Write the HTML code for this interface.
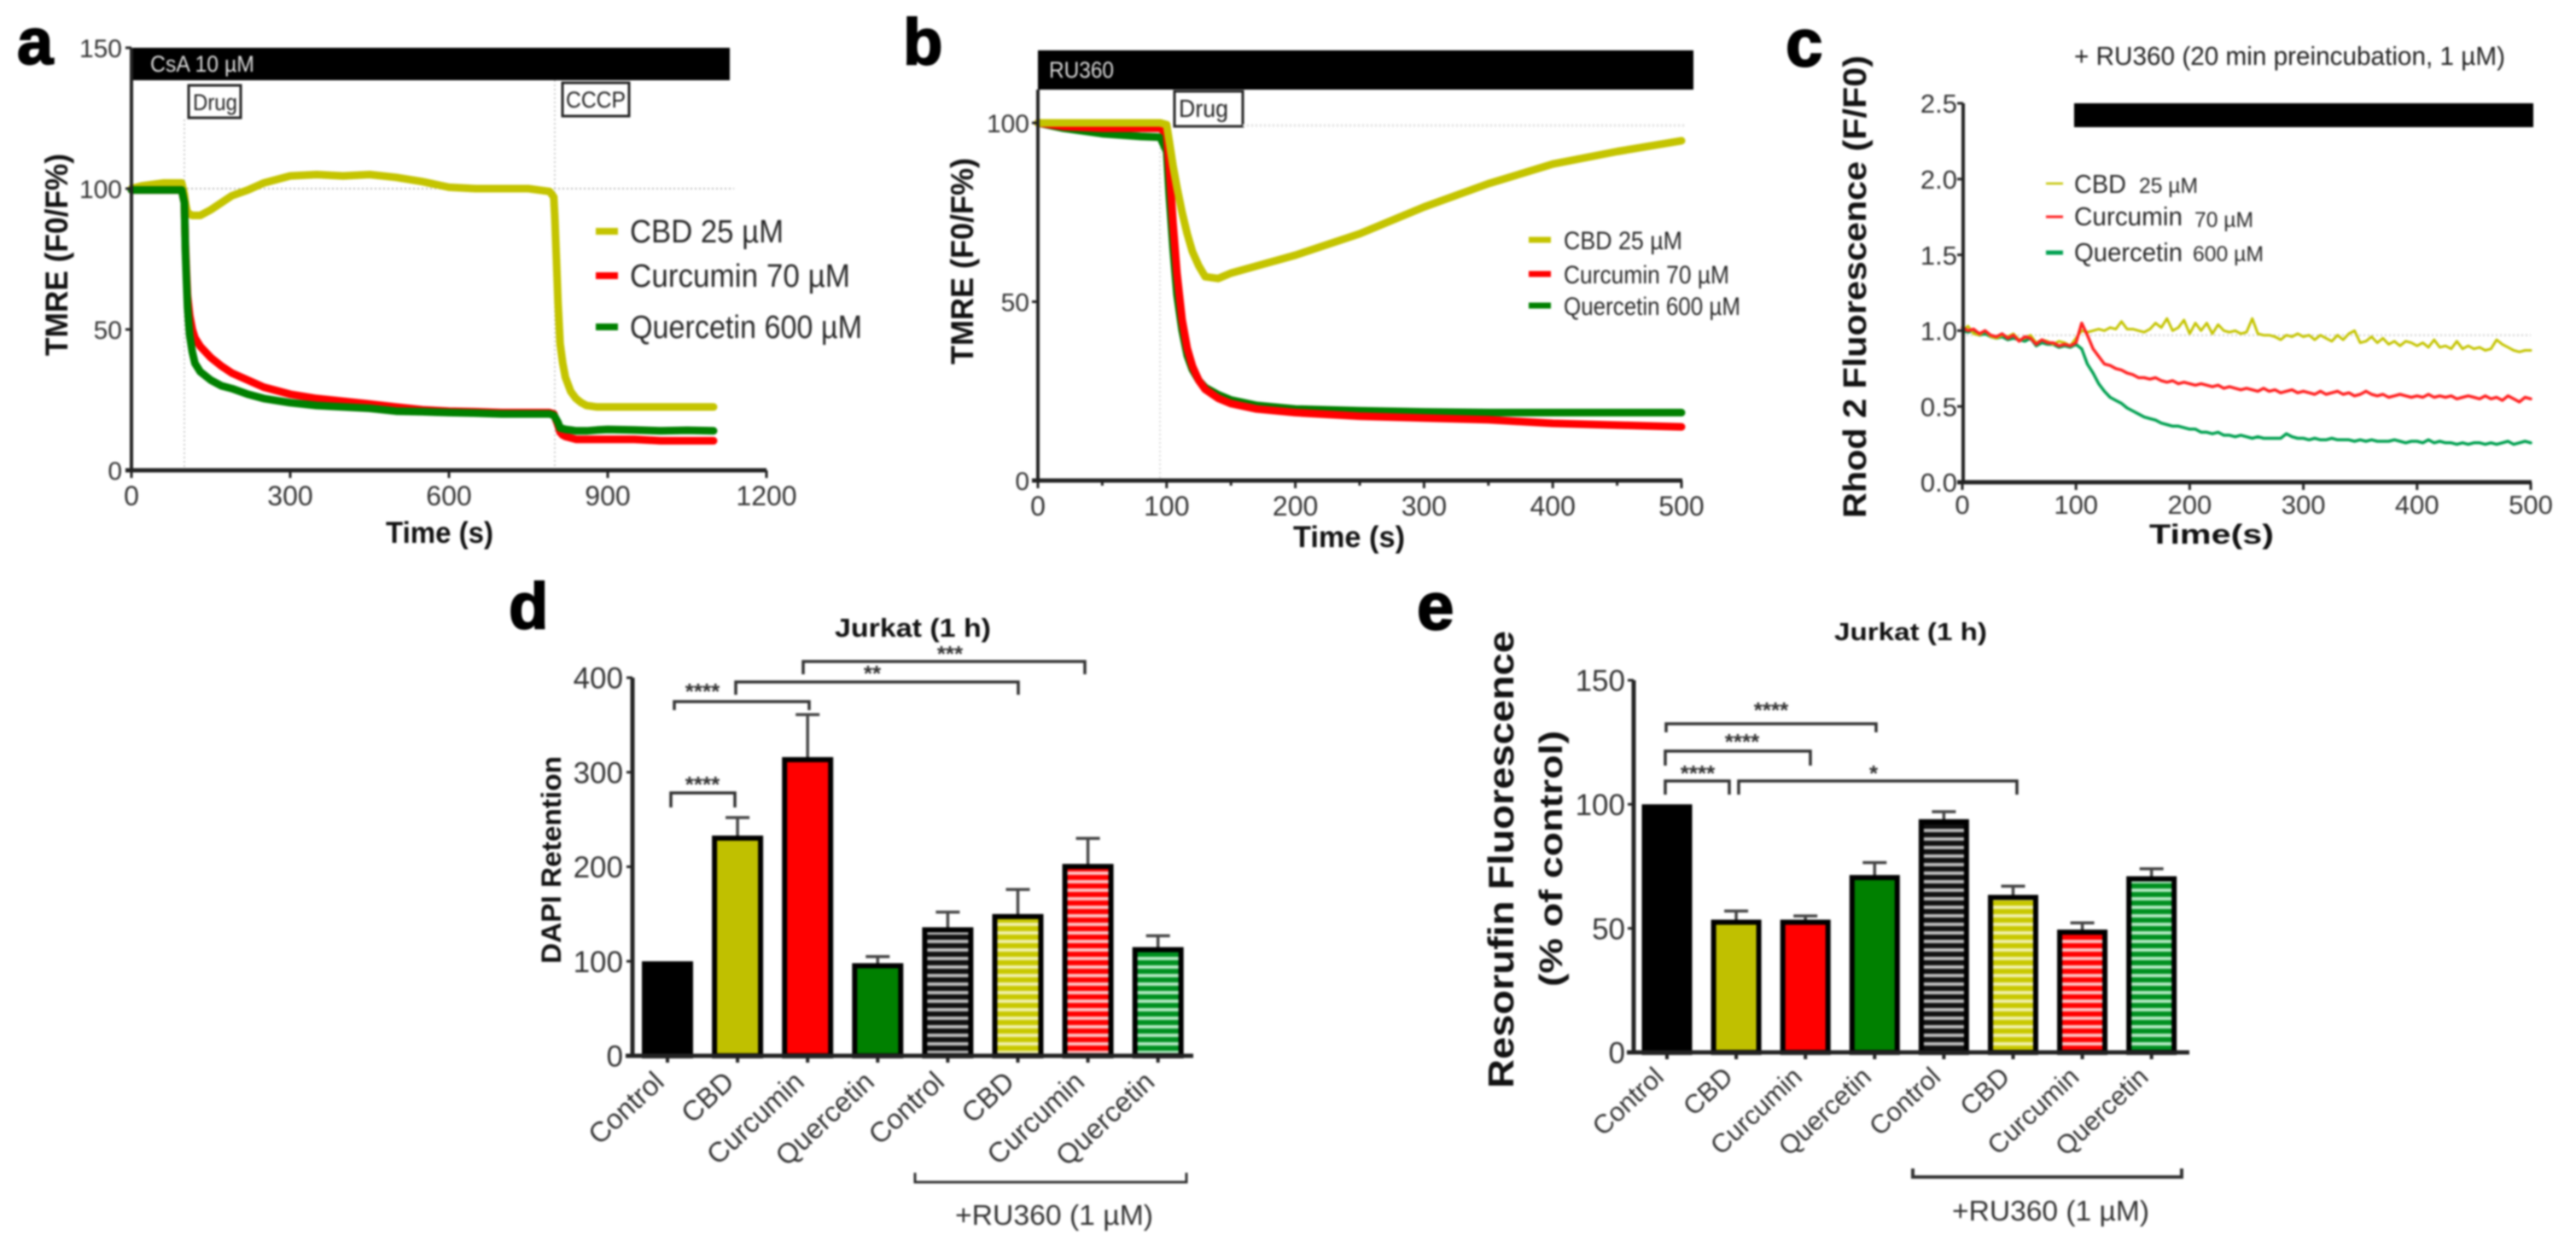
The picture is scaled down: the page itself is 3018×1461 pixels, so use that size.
<!DOCTYPE html>
<html lang="en">
<head>
<meta charset="utf-8">
<title>Mitochondrial response panels</title>
<style>
html,body{margin:0;padding:0;background:#fff;}
body{width:3018px;height:1461px;overflow:hidden;}
svg{display:block;filter:blur(1.1px);font-family:"Liberation Sans",sans-serif;}
.lb{font-weight:700;fill:#000;stroke:#000;stroke-width:2px;}
.tt{font-weight:700;fill:#111;}
.lg{fill:#2a2a2a;}
.tk{fill:#333;}
.st{fill:#333;font-weight:700;}
</style>
</head>
<body>
<svg id="figure" xmlns="http://www.w3.org/2000/svg" width="3018" height="1461" viewBox="0 0 3018 1461">
<defs>
<pattern id="stripe-black" patternUnits="userSpaceOnUse" width="10" height="10"><rect width="10" height="10" fill="#111"/><rect y="1" width="10" height="4" fill="#bbb"/></pattern>
<pattern id="stripe-olive" patternUnits="userSpaceOnUse" width="10" height="10"><rect width="10" height="10" fill="#c8c800"/><rect y="1" width="10" height="4" fill="#efefa8"/></pattern>
<pattern id="stripe-red" patternUnits="userSpaceOnUse" width="10" height="10"><rect width="10" height="10" fill="#ff0000"/><rect y="1" width="10" height="4" fill="#ffc0c0"/></pattern>
<pattern id="stripe-green" patternUnits="userSpaceOnUse" width="10" height="10"><rect width="10" height="10" fill="#009020"/><rect y="1" width="10" height="4" fill="#b0e8c0"/></pattern>
</defs>

<!-- panel letters -->
<text class="lb" x="20" y="75" font-size="76">a</text>
<text class="lb" x="1058" y="75" font-size="76">b</text>
<text class="lb" x="2092" y="77" font-size="78">c</text>
<text class="lb" x="596" y="736" font-size="76">d</text>
<text class="lb" x="1660" y="737" font-size="78">e</text>

<!-- panel a static -->
<g>
<rect x="154" y="56" width="701" height="38" fill="#000"/>
<text x="176" y="84" font-size="27" fill="#ddd" textLength="122" lengthAdjust="spacingAndGlyphs">CsA 10 µM</text>
<rect x="221" y="100" width="61" height="38" fill="#fff" stroke="#222" stroke-width="3"/>
<text x="226" y="129" font-size="27" fill="#222" textLength="52" lengthAdjust="spacingAndGlyphs">Drug</text>
<rect x="659" y="97" width="78" height="39" fill="#fff" stroke="#222" stroke-width="3"/>
<text x="663" y="126" font-size="27" fill="#222" textLength="70" lengthAdjust="spacingAndGlyphs">CCCP</text>
<text class="tt" transform="translate(79,417) rotate(-90)" font-size="37" textLength="237" lengthAdjust="spacingAndGlyphs">TMRE (F0/F%)</text>
<text class="tt" x="452" y="636" font-size="35" textLength="126" lengthAdjust="spacingAndGlyphs">Time (s)</text>
<text class="lg" x="738" y="284" font-size="38" textLength="180" lengthAdjust="spacingAndGlyphs">CBD 25 µM</text>
<text class="lg" x="738" y="336" font-size="38" textLength="258" lengthAdjust="spacingAndGlyphs">Curcumin 70 µM</text>
<text class="lg" x="738" y="396" font-size="38" textLength="272" lengthAdjust="spacingAndGlyphs">Quercetin 600 µM</text>
</g>

<!-- panel b static -->
<g>
<rect x="1216" y="59" width="768" height="46" fill="#000"/>
<text x="1229" y="91" font-size="27" fill="#ddd" textLength="76" lengthAdjust="spacingAndGlyphs">RU360</text>
<rect x="1376" y="107" width="80" height="41" fill="#fff" stroke="#222" stroke-width="3"/>
<text x="1381" y="137" font-size="29" fill="#222" textLength="58" lengthAdjust="spacingAndGlyphs">Drug</text>
<text class="tt" transform="translate(1140,427) rotate(-90)" font-size="37" textLength="242" lengthAdjust="spacingAndGlyphs">TMRE (F0/F%)</text>
<text class="tt" x="1515" y="641" font-size="35" textLength="131" lengthAdjust="spacingAndGlyphs">Time (s)</text>
<text class="lg" x="1832" y="292" font-size="30" textLength="139" lengthAdjust="spacingAndGlyphs">CBD 25 µM</text>
<text class="lg" x="1832" y="332" font-size="30" textLength="194" lengthAdjust="spacingAndGlyphs">Curcumin 70 µM</text>
<text class="lg" x="1832" y="369" font-size="30" textLength="207" lengthAdjust="spacingAndGlyphs">Quercetin 600 µM</text>
</g>

<!-- panel c static -->
<g>
<text x="2430" y="76" font-size="31" fill="#222" textLength="505" lengthAdjust="spacingAndGlyphs">+ RU360 (20 min preincubation, 1 µM)</text>
<rect x="2430" y="121" width="538" height="28" fill="#000"/>
<text class="tt" transform="translate(2186,607) rotate(-90)" font-size="38" textLength="542" lengthAdjust="spacingAndGlyphs">Rhod 2 Fluorescence (F/F0)</text>
<text class="tt" x="2518" y="637" font-size="32" textLength="146" lengthAdjust="spacingAndGlyphs">Time(s)</text>
<text class="lg" x="2430" y="226" font-size="31" textLength="61" lengthAdjust="spacingAndGlyphs">CBD</text>
<text class="lg" x="2506" y="226" font-size="25" textLength="69" lengthAdjust="spacingAndGlyphs">25 µM</text>
<text class="lg" x="2430" y="264" font-size="31" textLength="127" lengthAdjust="spacingAndGlyphs">Curcumin</text>
<text class="lg" x="2571" y="266" font-size="25" textLength="69" lengthAdjust="spacingAndGlyphs">70 µM</text>
<text class="lg" x="2430" y="306" font-size="31" textLength="127" lengthAdjust="spacingAndGlyphs">Quercetin</text>
<text class="lg" x="2569" y="306" font-size="25" textLength="83" lengthAdjust="spacingAndGlyphs">600 µM</text>
</g>

<!-- panel d static -->
<g>
<text class="tt" x="978" y="746" font-size="31" textLength="183" lengthAdjust="spacingAndGlyphs">Jurkat (1 h)</text>
<text class="tt" transform="translate(657,1129) rotate(-90)" font-size="32" textLength="243" lengthAdjust="spacingAndGlyphs">DAPI Retention</text>
<text class="tk" x="1119" y="1435" font-size="33" textLength="232" lengthAdjust="spacingAndGlyphs">+RU360 (1 µM)</text>
<text class="st" x="823" y="928" font-size="26" text-anchor="middle">****</text>
<text class="st" x="823" y="819" font-size="26" text-anchor="middle">****</text>
<text class="st" x="1022" y="798" font-size="26" text-anchor="middle">**</text>
<text class="st" x="1113" y="775" font-size="26" text-anchor="middle">***</text>
</g>

<!-- panel e static -->
<g>
<text class="tt" x="2149" y="750" font-size="29" textLength="179" lengthAdjust="spacingAndGlyphs">Jurkat (1 h)</text>
<text class="tt" transform="translate(1773,1275) rotate(-90)" font-size="42" textLength="536" lengthAdjust="spacingAndGlyphs">Resorufin Fluorescence</text>
<text class="tt" transform="translate(1830,1156) rotate(-90)" font-size="38" textLength="300" lengthAdjust="spacingAndGlyphs">(% of control)</text>
<text class="tk" x="2287" y="1430" font-size="33" textLength="231" lengthAdjust="spacingAndGlyphs">+RU360 (1 µM)</text>
<text class="st" x="1989" y="915" font-size="26" text-anchor="middle">****</text>
<text class="st" x="2195" y="915" font-size="26" text-anchor="middle">*</text>
<text class="st" x="2041" y="878" font-size="26" text-anchor="middle">****</text>
<text class="st" x="2075" y="841" font-size="26" text-anchor="middle">****</text>
</g>
<g id="marks"></g>
</svg>

<script>
// ---------- Panel a data ----------
const aTime = [0,20,40,60,80,95,100,102,104,106,110,115,120,130,150,170,190,220,250,300,350,400,450,500,550,600,650,700,750,790,798,800,803,806,810,815,820,830,840,850,860,880,900,950,1000,1050,1100];
const aCbd = [100,101,101.5,102,102,102,98,95,93,91.5,91,90.5,90.5,90.5,92.5,95,97.5,99.5,102,104.5,105,104.5,105,104,102.5,100.5,100,100,100,99,97,90,75,60,45,38,33,28,25.5,24,23,22.5,22.5,22.5,22.5,22.5,22.5];
const aCurcumin = [99.5,99.5,99.5,99.5,99.5,99.5,95,80,70,62,55,50,47,44,40,37,34.5,32,29.5,27,25.5,24.5,23.5,22.5,21.5,21,20.8,20.5,20.5,20.5,20,19,17.5,16,13.5,12.5,12,11.5,11,11,11,11,11,11,10.5,10.5,10.5];
const aQuercetin = [99.5,99.5,99.5,99.5,99.5,99.5,95,78,67,58,48,42,38,35,32,30,29,27,25.5,24,23,22.5,22,21,20.8,20.5,20.3,20,20,20,19.5,19,18,17,15,14.8,14.5,14.3,14,14,14,14.3,14.5,14.3,14,14.2,14];
const aXTicks = [0,300,600,900,1200];
const aYTicks = [0,50,100,150];

// ---------- Panel b data ----------
const bTime = [0,20,50,80,95,100,102,105,108,112,116,120,125,130,140,150,170,200,250,300,350,400,450,500];
const bCbd = [100,100,100,100,100,99.5,95,88,82,75,69,64,60,57,56.5,58,60,63,69,76.5,83,88.5,92,95];
const bCurcumin = [100,99,98.5,98.5,98.5,97,88,72,58,45,37,32,28,25.5,23,21.5,20,19,18,17.5,17,16,15.5,15];
const bQuercetin = [100,98.5,97,96.2,96,92,80,65,52,42,35,31,28,26,24,22.5,21,20,19.5,19.2,19,19,19,19];
const bXTicks = [0,100,200,300,400,500];
const bXMinorTicks = [50,150,250,350,450];
const bYTicks = [0,50,100];

// ---------- Panel c data ----------
const cTime = [0,5,10,15,20,25,30,35,40,45,50,55,60,65,70,75,80,85,90,95,
100,105,110,115,120,125,130,135,140,145,150,155,160,165,170,175,180,185,190,195,
200,205,210,215,220,225,230,235,240,245,250,255,260,265,270,275,280,285,290,295,
300,305,310,315,320,325,330,335,340,345,350,355,360,365,370,375,380,385,390,395,
400,405,410,415,420,425,430,435,440,445,450,455,460,465,470,475,480,485,490,495,500];
const cCbd = [1.00,1.03,0.98,0.97,1.00,0.96,0.95,0.97,0.96,0.98,0.94,0.95,0.97,0.92,0.94,0.93,0.91,0.93,0.92,0.90,
0.95,1.00,0.99,1.00,1.01,1.00,1.02,1.01,1.06,1.01,1.01,1.00,0.99,1.01,1.05,1.02,1.08,1.00,1.02,1.07,
0.98,1.05,1.00,1.05,0.98,1.04,1.00,0.99,1.00,0.98,0.99,1.08,0.98,0.97,0.97,0.96,0.94,0.97,0.96,0.98,
0.96,0.97,0.94,0.97,0.95,0.93,0.97,0.94,0.98,1.00,0.92,0.93,0.96,0.92,0.95,0.91,0.93,0.90,0.93,0.92,
0.90,0.92,0.89,0.94,0.89,0.90,0.88,0.93,0.88,0.90,0.88,0.89,0.87,0.88,0.94,0.91,0.89,0.87,0.86,0.87,0.87];
const cCurcumin = [1.02,1.00,1.01,0.98,1.00,0.97,0.96,0.98,0.95,0.97,0.93,0.96,0.95,0.91,0.94,0.92,0.92,0.90,0.91,0.90,
0.92,1.05,0.97,0.88,0.83,0.78,0.77,0.75,0.74,0.72,0.71,0.69,0.69,0.68,0.69,0.67,0.66,0.67,0.65,0.66,
0.65,0.64,0.65,0.64,0.63,0.64,0.62,0.63,0.62,0.61,0.62,0.61,0.60,0.62,0.60,0.61,0.59,0.60,0.61,0.59,
0.60,0.59,0.58,0.60,0.58,0.59,0.60,0.58,0.59,0.57,0.58,0.60,0.58,0.57,0.58,0.56,0.57,0.58,0.57,0.56,
0.57,0.56,0.58,0.56,0.57,0.56,0.57,0.55,0.56,0.57,0.56,0.55,0.57,0.55,0.56,0.54,0.57,0.55,0.53,0.56,0.55];
const cQuercetin = [1.00,0.99,1.00,0.97,0.98,0.96,0.95,0.96,0.94,0.95,0.94,0.93,0.95,0.90,0.92,0.91,0.91,0.89,0.90,0.89,
0.91,0.88,0.78,0.72,0.65,0.60,0.56,0.54,0.52,0.49,0.47,0.45,0.43,0.42,0.41,0.39,0.38,0.37,0.37,0.36,
0.35,0.35,0.33,0.33,0.32,0.33,0.31,0.31,0.30,0.31,0.30,0.29,0.30,0.29,0.29,0.29,0.29,0.32,0.30,0.29,
0.29,0.28,0.29,0.28,0.28,0.29,0.28,0.28,0.28,0.27,0.28,0.27,0.28,0.27,0.27,0.27,0.28,0.27,0.26,0.27,
0.27,0.26,0.28,0.26,0.27,0.26,0.26,0.25,0.26,0.25,0.26,0.26,0.25,0.26,0.25,0.26,0.27,0.25,0.26,0.27,0.26];
const cXTicks = [0,100,200,300,400,500];
const cYTicks = ['0.0','0.5','1.0','1.5','2.0','2.5'];

// ---------- Panels d, e data ----------
const barCategories = ['Control','CBD','Curcumin','Quercetin','Control','CBD','Curcumin','Quercetin'];
const barFills = ['#000000','#c0c000','#ff0000','#008000','url(#stripe-black)','url(#stripe-olive)','url(#stripe-red)','url(#stripe-green)'];
const dValues = [100,233,316,98,136,150,203,115];
const dErrors = [0,19,45,7,16,26,27,12];
const dYTicks = [0,100,200,300,400];
const eValues = [100,53.5,53.5,71.5,94,63.5,49.5,71];
const eErrors = [0,3.5,1.5,5,3,3.5,2.7,3];
const eYTicks = [0,50,100,150];

// ---------- Helpers ----------
const NS = 'http://www.w3.org/2000/svg';
const root = document.getElementById('marks');
function linear(d0, d1, r0, r1) { return function (v) { return r0 + (v - d0) * (r1 - r0) / (d1 - d0); }; }
function make(tag, attrs, text) {
  const el = document.createElementNS(NS, tag);
  for (const k in attrs) el.setAttribute(k, attrs[k]);
  if (text !== undefined) el.textContent = text;
  root.appendChild(el);
  return el;
}
function drawLine(x1, y1, x2, y2, w, color, name, dash) {
  const a = { x1: x1, y1: y1, x2: x2, y2: y2, stroke: color, 'stroke-width': w };
  if (dash) a['stroke-dasharray'] = dash;
  const el = make('line', a);
  
  
  return el;
}
function drawSeries(times, values, xf, yf, color, w, name) {
  const pts = values.map(function (v, i) { return xf(times[i]).toFixed(1) + ',' + yf(v).toFixed(1); }).join(' ');
  const el = make('polyline', { points: pts, fill: 'none', stroke: color, 'stroke-width': w, 'stroke-linejoin': 'round', 'stroke-linecap': 'round' });
  
  
}
function drawYAxis(prefix, ticks, yf, xAxis, yTop, yBottom, rightEdge, fs, w) {
  drawLine(xAxis, yTop, xAxis, yBottom + w / 2, w, '#222', prefix + '-y-axis');
  ticks.forEach(function (t) {
    const y = yf(parseFloat(t));
    drawLine(xAxis - 7, y, xAxis, y, 3, '#222', prefix + '-y-tick');
    const el = make('text', { x: rightEdge, y: y + fs * 0.36, 'font-size': fs, 'text-anchor': 'end', class: 'tk' }, t);
    
    
  });
}
function drawXAxis(prefix, ticks, xf, yAxis, xStart, xEnd, labelY, fs, w) {
  drawLine(xStart, yAxis, xEnd, yAxis, w, '#222', prefix + '-x-axis');
  ticks.forEach(function (t) {
    const x = xf(t);
    drawLine(x, yAxis, x, yAxis + 9, 3, '#222', prefix + '-x-tick');
    const el = make('text', { x: x, y: labelY, 'font-size': fs, 'text-anchor': 'middle', class: 'tk' }, t);
    
    
  });
}
function drawLegendKey(prefix, x1, x2, y, color, w) {
  drawLine(x1, y, x2, y, w, color, prefix + '-legend-key');
}
function drawBracket(x1, x2, y, leg1, leg2, name, w) {
  const el = make('path', { d: 'M' + x1 + ' ' + leg1 + ' V' + y + ' H' + x2 + ' V' + leg2, fill: 'none', stroke: '#333', 'stroke-width': w || 3.5 });
  
  
}

// ---------- Panel a ----------
const aX = linear(0, 1200, 154, 898);
const aY = linear(0, 150, 551, 56);
drawLine(aX(100), 140, aX(100), 551, 1.5, '#bbb', 'a-drug-guide', '2 3');
drawLine(aX(800), 94, aX(800), 551, 1.5, '#bbb', 'a-cccp-guide', '2 3');
drawLine(154, aY(100), 860, aY(100), 2, '#bbb', 'a-baseline-100', '2 3');
drawSeries(aTime, aCbd, aX, aY, '#c4c400', 9, 'a-series-cbd');
drawSeries(aTime, aCurcumin, aX, aY, '#ff0000', 9, 'a-series-curcumin');
drawSeries(aTime, aQuercetin, aX, aY, '#008000', 9, 'a-series-quercetin');
drawYAxis('a', aYTicks, aY, 154, 56, 551, 143, 30, 4);
drawXAxis('a', aXTicks, aX, 551, 147, 898, 592, 32, 5);
drawLegendKey('a-cbd', 698, 724, 271, '#c4c400', 8);
drawLegendKey('a-curcumin', 698, 724, 323, '#ff0000', 8);
drawLegendKey('a-quercetin', 698, 724, 383, '#008000', 8);

// ---------- Panel b ----------
const bX = linear(0, 500, 1216, 1970);
const bY = linear(0, 100, 563, 144);
drawLine(1359, 148, 1359, 563, 1.5, '#ccc', 'b-drug-guide', '2 3');
drawLine(1456, bY(100) + 3, 1975, bY(100) + 3, 3, '#ddd', 'b-baseline-100', '2 3');
drawSeries(bTime, bQuercetin, bX, bY, '#008000', 9, 'b-series-quercetin');
drawSeries(bTime, bCurcumin, bX, bY, '#ff0000', 9, 'b-series-curcumin');
drawSeries(bTime, bCbd, bX, bY, '#c4c400', 9, 'b-series-cbd');
drawYAxis('b', bYTicks, bY, 1216, 105, 563, 1206, 30, 4);
drawXAxis('b', bXTicks, bX, 563, 1209, 1971, 604, 32, 5);
bXMinorTicks.forEach(function (t) {
  drawLine(bX(t), 563, bX(t), 569, 3, '#222', 'b-x-minor-tick');
});
drawLegendKey('b-cbd', 1791, 1817, 281, '#c4c400', 7);
drawLegendKey('b-curcumin', 1791, 1817, 321, '#ff0000', 7);
drawLegendKey('b-quercetin', 1791, 1817, 358, '#008000', 7);

// ---------- Panel c ----------
const cX = linear(0, 500, 2299, 2965);
const cY = linear(0, 2.5, 565, 121);
drawLine(2299, cY(0.97), 2965, cY(0.97), 2, '#ccc', 'c-baseline-1', '2 3');
drawSeries(cTime, cQuercetin, cX, cY, '#00a050', 3.5, 'c-series-quercetin');
drawSeries(cTime, cCbd, cX, cY, '#c4c400', 3, 'c-series-cbd');
drawSeries(cTime, cCurcumin, cX, cY, '#ff2020', 3.5, 'c-series-curcumin');
drawYAxis('c', cYTicks, cY, 2300, 121, 565, 2293, 31, 4);
drawXAxis('c', cXTicks, cX, 565, 2293, 2966, 602, 31, 5);
drawLegendKey('c-cbd', 2397, 2417, 215, '#c4c400', 2.5);
drawLegendKey('c-curcumin', 2397, 2417, 254, '#ff2020', 3);
drawLegendKey('c-quercetin', 2397, 2417, 296, '#00a050', 5);

// ---------- Bar panels ----------
function drawBars(prefix, values, errors, xf, yf, y0, barW) {
  values.forEach(function (v, i) {
    const cx = xf(i);
    const topY = yf(v) + 3;
    if (errors[i] > 0) {
      const top = yf(v + errors[i]);
      drawLine(cx, topY, cx, top, 3.5, '#444', prefix + '-error-stem-' + i);
      drawLine(cx - 14, top, cx + 14, top, 3.5, '#444', prefix + '-error-cap-' + i);
    }
    const el = make('rect', { x: cx - barW / 2, y: topY, width: barW, height: y0 - topY, fill: barFills[i], stroke: '#000', 'stroke-width': 6 });
    
    
  });
}
function drawCategoryLabels(prefix, xf, anchorY, fs) {
  barCategories.forEach(function (c, i) {
    const x = xf(i) - 2;
    const el = make('text', { x: x, y: anchorY, 'font-size': fs, 'text-anchor': 'end', class: 'tk', transform: 'rotate(-43 ' + x + ' ' + anchorY + ')' }, c);
    
    
  });
}

// ---------- Panel d ----------
const dX = function (i) { return 782 + i * 82.1; };
const dY = linear(0, 400, 1237, 794);
drawBars('d', dValues, dErrors, dX, dY, 1237, 54);
drawYAxis('d', dYTicks, dY, 741, 794, 1237, 730, 35, 5);
drawLine(733, 1237, 1398, 1237, 5, '#222', 'd-x-axis');
barCategories.forEach(function (c, i) {
  drawLine(dX(i), 1237, dX(i), 1245, 4, '#222', 'd-x-tick');
});
drawCategoryLabels('d', dX, 1270, 33);
drawBracket(786, 861, 929, 946, 946, 'd-bracket-control-cbd');
drawBracket(790, 948, 822, 832, 832, 'd-bracket-control-curcumin');
drawBracket(862, 1193, 799, 814, 814, 'd-bracket-cbd-ru360');
drawBracket(941, 1271, 775, 790, 790, 'd-bracket-curcumin-ru360');
drawBracket(1072, 1390, 1385, 1374, 1374, 'd-bracket-ru360-group', 3);

// ---------- Panel e ----------
const eX = function (i) { return 1953 + i * 81.1; };
const eY = linear(0, 150, 1233, 797);
drawBars('e', eValues, eErrors, eX, eY, 1233, 53);
drawYAxis('e', eYTicks, eY, 1914, 797, 1233, 1904, 35, 5);
drawLine(1906, 1233, 2565, 1233, 5, '#222', 'e-x-axis');
barCategories.forEach(function (c, i) {
  drawLine(eX(i), 1233, eX(i), 1241, 4, '#222', 'e-x-tick');
});
drawCategoryLabels('e', eX, 1264, 31);
drawBracket(1951, 2026, 915, 931, 931, 'e-bracket-control-cbd');
drawBracket(2037, 2363, 915, 931, 931, 'e-bracket-cbd-ru360');
drawBracket(1951, 2121, 880, 897, 897, 'e-bracket-control-curcumin');
drawBracket(1952, 2198, 848, 858, 858, 'e-bracket-control-quercetin');
drawBracket(2241, 2556, 1379, 1369, 1369, 'e-bracket-ru360-group', 4);
</script>
</body>
</html>
